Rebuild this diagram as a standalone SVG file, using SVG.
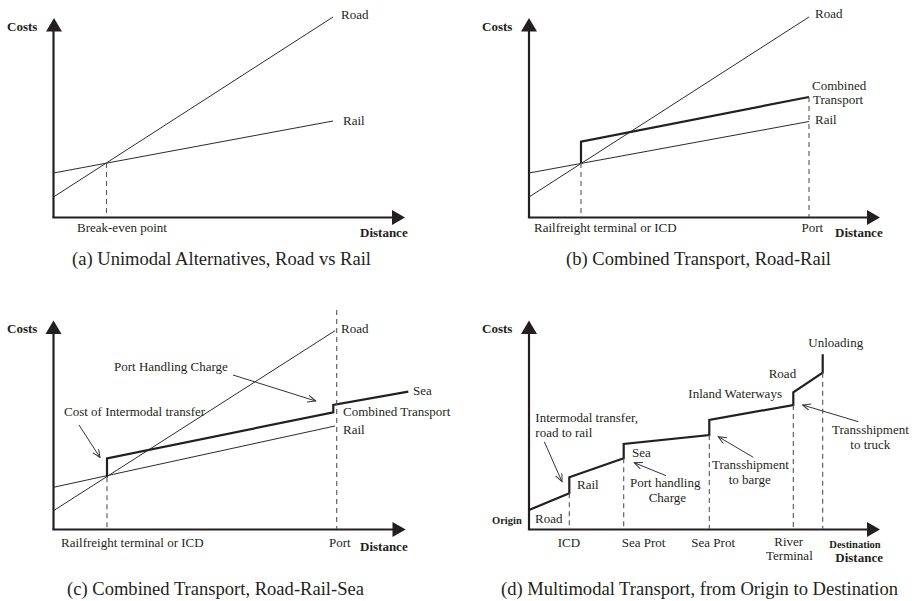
<svg xmlns="http://www.w3.org/2000/svg" width="912" height="601" viewBox="0 0 912 601">
<defs>
<style>
text{font-family:"Liberation Serif","Times New Roman",serif;fill:#231f20;font-size:13px}
.b{font-weight:bold}
.sm{font-size:10.5px;font-weight:bold}
.cap{font-size:18px}
.ax{stroke:#231f20;stroke-width:2.2;fill:none}
.ah{fill:#231f20}
.thin{stroke:#2b2b2b;stroke-width:1;fill:none}
.thick{stroke:#231f20;stroke-width:2.2;fill:none;stroke-linejoin:miter}
.dash{stroke:#555;stroke-width:1.1;stroke-dasharray:5,4;fill:none}
.ann{stroke:#333;stroke-width:1;fill:none;marker-end:url(#v)}
</style>
<marker id="v" markerWidth="9" markerHeight="8" refX="8" refY="3.5" orient="auto" markerUnits="userSpaceOnUse">
<path d="M0,0 L8,3.5 L0,7" fill="none" stroke="#333" stroke-width="1"/>
</marker>
</defs>
<rect width="912" height="601" fill="#fff"/>

<!-- Panel (a) -->
<g id="panel-a">
<g id="a-axes">
<line class="ax" x1="53.5" y1="30" x2="53.5" y2="217.5"/>
<line class="ax" x1="52.4" y1="217.5" x2="393" y2="217.5"/>
<polygon class="ah" points="54,18 46,31.5 62,31.5"/>
<polygon class="ah" points="405,217.5 392,210 392,225"/>
</g>
<g id="a-lines">
<line class="thin" x1="53.5" y1="197" x2="333" y2="17"/>
<line class="thin" x1="53.5" y1="173" x2="333" y2="121"/>
<line class="dash" x1="106.5" y1="163" x2="106.5" y2="217"/>
</g>
<g id="a-labels">
<text class="b" x="7" y="31">Costs</text>
<text x="341" y="19">Road</text>
<text x="343" y="125">Rail</text>
<text x="77" y="232">Break-even point</text>
<text class="b" x="360" y="237">Distance</text>
<text class="cap" x="72" y="265" textLength="299" lengthAdjust="spacingAndGlyphs">(a) Unimodal Alternatives, Road vs Rail</text>
</g>
</g>

<!-- Panel (b) -->
<g id="panel-b">
<g id="b-axes">
<line class="ax" x1="529" y1="30" x2="529" y2="217.5"/>
<line class="ax" x1="527.9" y1="217.5" x2="868" y2="217.5"/>
<polygon class="ah" points="529,18 521,31.5 537,31.5"/>
<polygon class="ah" points="880,217.5 867,210 867,225"/>
</g>
<g id="b-lines">
<line class="thin" x1="529" y1="197" x2="809" y2="17"/>
<line class="thin" x1="529" y1="173" x2="809" y2="121.5"/>
<polyline class="thick" points="581,163 581,141.7 809,97"/>
<line class="dash" x1="581" y1="163" x2="581" y2="217"/>
<line class="dash" x1="809" y1="97" x2="809" y2="217"/>
</g>
<g id="b-labels">
<text class="b" x="482" y="31">Costs</text>
<text x="815" y="17.5">Road</text>
<text x="812" y="90">Combined</text>
<text x="813" y="104">Transport</text>
<text x="815" y="124">Rail</text>
<text x="534" y="232">Railfreight terminal or ICD</text>
<text x="801.5" y="232">Port</text>
<text class="b" x="835" y="237">Distance</text>
<text class="cap" x="566" y="265" textLength="265" lengthAdjust="spacingAndGlyphs">(b) Combined Transport, Road-Rail</text>
</g>
</g>

<!-- Panel (c) -->
<g id="panel-c">
<g id="c-axes">
<line class="ax" x1="53.5" y1="332" x2="53.5" y2="529.5"/>
<line class="ax" x1="52.4" y1="529.5" x2="393" y2="529.5"/>
<polygon class="ah" points="53.5,320.5 45.5,334 61.5,334"/>
<polygon class="ah" points="405.7,529.5 392.5,522 392.5,537"/>
</g>
<g id="c-lines">
<line class="thin" x1="53.5" y1="510.7" x2="335" y2="330.7"/>
<line class="thin" x1="53.5" y1="487.3" x2="335" y2="426"/>
<polyline class="thick" points="107,477.3 107,458.3 333.3,412.3 333.3,405 408.3,391.7"/>
<line class="dash" x1="107" y1="477.3" x2="107" y2="529"/>
<line class="dash" x1="336.7" y1="310" x2="336.7" y2="529"/>
</g>
<g id="c-labels">
<text class="b" x="7" y="333">Costs</text>
<text x="341" y="333">Road</text>
<text x="114" y="371">Port Handling Charge</text>
<text x="413" y="395">Sea</text>
<text x="343" y="416">Combined Transport</text>
<text x="343" y="434">Rail</text>
<text x="64" y="416">Cost of Intermodal transfer</text>
<text x="61" y="547">Railfreight terminal or ICD</text>
<text x="329" y="547">Port</text>
<text class="b" x="360" y="551">Distance</text>
<text class="cap" x="67" y="595" textLength="297" lengthAdjust="spacingAndGlyphs">(c) Combined Transport, Road-Rail-Sea</text>
</g>
</g>

<!-- Panel (d) -->
<g id="panel-d">
<g id="d-axes">
<line class="ax" x1="529" y1="332" x2="529" y2="529.5"/>
<line class="ax" x1="527.9" y1="529.5" x2="868" y2="529.5"/>
<polygon class="ah" points="529,320.5 521,334 537,334"/>
<polygon class="ah" points="880,529.5 867,522 867,537"/>
</g>
<g id="d-lines">
<polyline class="thick" points="529,510 569.3,493.3 569.3,477.3 623.7,458.3 623.7,444 709.3,435 709.3,420 793.3,405 793.3,392.3 822.7,372.7 822.7,354.3"/>
<line class="dash" x1="569.3" y1="493.3" x2="569.3" y2="529"/>
<line class="dash" x1="623.7" y1="458.3" x2="623.7" y2="529"/>
<line class="dash" x1="709.3" y1="435" x2="709.3" y2="529"/>
<line class="dash" x1="793.3" y1="405" x2="793.3" y2="529"/>
<line class="dash" x1="822.7" y1="372.7" x2="822.7" y2="529"/>
</g>
<g id="d-labels">
<text class="b" x="482" y="333">Costs</text>
<text class="sm" x="492" y="523.5">Origin</text>
<text x="535" y="523">Road</text>
<text x="577" y="489">Rail</text>
<text x="535.3" y="421.7">Intermodal transfer,</text>
<text x="535.3" y="437.3">road to rail</text>
<text x="632" y="457.3">Sea</text>
<text x="630" y="486.7">Port handling</text>
<text x="648.7" y="501.7">Charge</text>
<text x="712" y="469">Transshipment</text>
<text x="728.7" y="484.3">to barge</text>
<text x="688.3" y="398.3">Inland Waterways</text>
<text x="768.7" y="378.3">Road</text>
<text x="808.3" y="347.3">Unloading</text>
<text x="832" y="434">Transshipment</text>
<text x="850.3" y="449.3">to truck</text>
<text x="557.7" y="547.3">ICD</text>
<text x="621.7" y="547.3">Sea Prot</text>
<text x="691.3" y="547.3">Sea Prot</text>
<text x="774.3" y="545.5">River</text>
<text x="766" y="559.8">Terminal</text>
<text class="sm" x="829.3" y="547.7">Destination</text>
<text class="b" x="835.3" y="561.7">Distance</text>
<text class="cap" x="501" y="595" textLength="397" lengthAdjust="spacingAndGlyphs">(d) Multimodal Transport, from Origin to Destination</text>
</g>
</g>

<!-- Annotation connectors -->
<g id="connectors">
<line class="ann" x1="79" y1="425" x2="100" y2="457.5"/>
<line class="ann" x1="233" y1="375" x2="315.7" y2="401"/>
<line class="ann" x1="544.3" y1="441.7" x2="562" y2="481.7"/>
<line class="ann" x1="666" y1="475.7" x2="634.3" y2="462.7"/>
<line class="ann" x1="753.3" y1="457.3" x2="718.3" y2="436.7"/>
<line class="ann" x1="858.3" y1="421.7" x2="802.7" y2="405"/>
</g>
</svg>
